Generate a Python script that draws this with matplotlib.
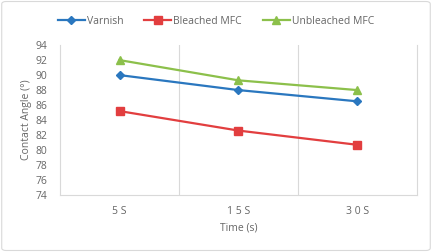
import matplotlib
matplotlib.use("Agg")
import matplotlib.pyplot as plt
from matplotlib.patches import FancyBboxPatch

plt.rcParams['font.family'] = ['Open Sans', 'DejaVu Sans']

tempi = ["5S", "15S", "30S"]
varnish = [90.0, 88.0, 86.5]
bleached = [85.2, 82.6, 80.7]
unbleached = [92.0, 89.3, 88.0]

grigio = "#666666"

fig = plt.figure(figsize=(4.32, 2.52), dpi=100)
fig.patches.append(FancyBboxPatch((0.004, 0.006), 0.992, 0.988, boxstyle="round,pad=0,rounding_size=0.01",
                                  transform=fig.transFigure, fill=False, edgecolor="#d9d9d9", linewidth=0.8))
ax = fig.add_axes([0.139, 0.226, 0.826, 0.595])

x = range(len(tempi))
ax.plot(x, varnish, color="#2a77bf", marker="D", markersize=4.5, linewidth=1.6, label="Varnish")
ax.plot(x, bleached, color="#e23e3f", marker="s", markersize=5.5, linewidth=1.6, label="Bleached MFC")
ax.plot(x, unbleached, color="#8cc04b", marker="^", markersize=6, linewidth=1.6, label="Unbleached MFC")

ax.set_xlim(-0.5, 2.5)
ax.set_ylim(74, 94)
ax.set_yticks(range(74, 95, 2))
ax.set_xticks(list(x))
ax.set_xticklabels(["5 S", "1 5 S", "3 0 S"])
ax.set_xticks([0.5, 1.5], minor=True)
ax.tick_params(axis="x", which="minor", length=0)
ax.grid(True, axis="x", which="minor", color="#d9d9d9", linewidth=0.8)
ax.tick_params(axis="both", which="major", length=0, labelsize=7.5, colors=grigio, pad=8)
ax.tick_params(axis="y", pad=9)

for lato in ["left", "right", "bottom"]:
    ax.spines[lato].set_color("#d9d9d9")
    ax.spines[lato].set_linewidth(0.8)
ax.spines["top"].set_visible(False)

ax.set_xlabel("Time (s)", fontsize=7.5, color=grigio, labelpad=4)
ax.set_ylabel("Contact Angle (°)", fontsize=7.5, color=grigio, labelpad=3)

fig.legend(loc="upper center", bbox_to_anchor=(0.5, 0.975), ncol=3, frameon=False,
           fontsize=7.5, labelcolor=grigio, handlelength=2.6, columnspacing=2.0, handletextpad=0.2)

fig.savefig("out.png", dpi=100)
